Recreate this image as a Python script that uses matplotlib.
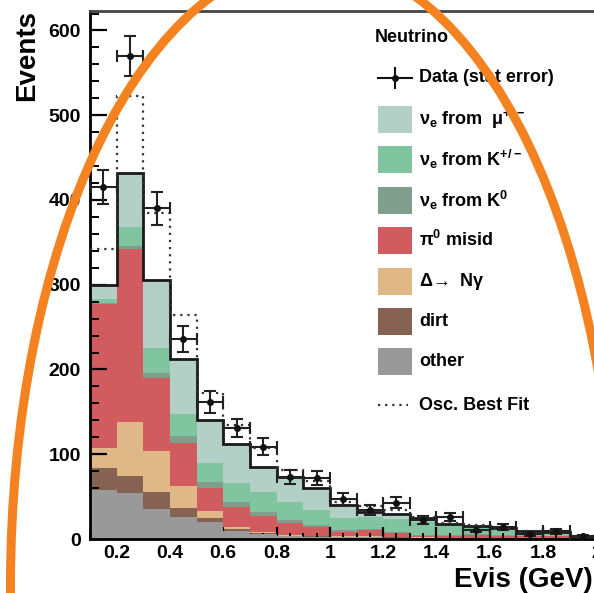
import numpy as np
import matplotlib
matplotlib.use("Agg")
import matplotlib.pyplot as plt
from matplotlib.patches import Rectangle, Ellipse
from matplotlib.lines import Line2D
from matplotlib.transforms import Affine2D
from matplotlib.ticker import MultipleLocator

# ── data (Evis bins, 0.1 GeV wide) ──────────────────────────────────────────
edges = [0.1, 0.2, 0.3, 0.4, 0.5, 0.6, 0.7, 0.8, 0.9, 1.0,
         1.1, 1.2, 1.3, 1.4, 1.5, 1.6, 1.7, 1.8, 1.9, 2.0]

# cumulative tops of the stacked MC (bottom -> top)
top_other = [58, 54, 35, 26, 20, 10, 6, 3, 2.5, 2, 2, 1.5, 1, 1, 1, 0.8, 0.6, 0.6, 0.3]
top_dirt  = [84, 74, 55, 37, 25, 11.5, 7, 3.5, 3, 2.5, 2.5, 2, 1.5, 1.2, 1.2, 1, 0.8, 0.8, 0.5]
top_delta = [107, 138, 104, 62, 33, 14, 8, 4.5, 4, 3, 3, 2.5, 2, 1.6, 1.6, 1.3, 1, 1, 0.6]
top_pi0   = [277, 342, 190, 113, 60, 38, 27, 19, 14, 8.6, 10.6, 6.7, 3.5, 3.5, 5, 4, 3, 3, 1.5]
top_k0    = [279, 346, 196, 121, 67, 44, 32, 23, 16.5, 10.5, 12, 8, 5, 4.5, 6, 5, 3.8, 3.8, 1.8]
top_kpm   = [283, 368, 225, 147, 90, 66, 55, 44, 34, 24.4, 26, 24, 20.5, 15, 13, 11, 8, 7.5, 2.8]
top_mu    = [300, 432, 306, 212, 140, 112, 85, 73, 60, 40, 32, 30, 25, 17.7, 15.3, 12.6, 9.4, 8.7, 3.5]

osc_fit   = [342, 523, 385, 264, 172, 135, 107, 81, 68, 44, 39, 34, 26, 19, 16, 13, 9, 10, 3.5]

data_n    = [415, 570, 390, 236, 162, 131, 109, 73, 72, 47, 34, 43, 22, 26, 11, 14, 6, 9, 3]
data_err  = [20, 24, 20, 15, 13, 11, 10, 8.5, 8.5, 7, 6, 6.5, 4.7, 5, 3.3, 3.7, 2.4, 3, 1.7]

COL = {
    "mu": "#b2d0c6", "kpm": "#80c4a0", "k0": "#809e8c", "pi0": "#d05c60",
    "delta": "#e0b888", "dirt": "#856252", "other": "#999999",
}
ORANGE = "#f58220"

plt.rcParams.update({
    "font.family": ["Liberation Sans", "DejaVu Sans"],
    "font.weight": "bold",
    "mathtext.fontset": "custom",
    "mathtext.rm": "Liberation Sans",
    "mathtext.bf": "Liberation Sans:bold",
    "mathtext.default": "rm",
})

W, H = 594, 593
fig = plt.figure(figsize=(W / 100, H / 100), dpi=100)
# pixel coordinates, y pointing down
px = Affine2D().scale(1 / W, -1 / H).translate(0, 1) + fig.transFigure

ax = fig.add_axes([90 / W, 1 - 539 / H, (623 - 90) / W, (539 - 11) / H])
ax.set_xlim(0.1, 2.1)
ax.set_ylim(0, 623)

edges = np.array(edges)
centers = 0.5 * (edges[:-1] + edges[1:])

stack = [(top_mu, "mu"), (top_kpm, "kpm"), (top_k0, "k0"), (top_pi0, "pi0"),
         (top_delta, "delta"), (top_dirt, "dirt"), (top_other, "other")]
for z, (vals, key) in enumerate(stack):
    ax.stairs(vals, edges, baseline=0, fill=True, color=COL[key], lw=0, zorder=1 + z * 0.1)

ax.stairs(top_mu, edges, baseline=None, color="#1a1a1a", lw=2.0, zorder=3)
ax.stairs(osc_fit, edges, baseline=None, color="#333333", lw=1.6,
          ls=(0, (1, 2.2)), zorder=3)

ax.errorbar(centers, data_n, yerr=data_err, xerr=0.05, fmt="o", ms=4,
            color="#111111", ecolor="#222222", elinewidth=1.5, capsize=4.5,
            capthick=1.5, zorder=5)

# axes styling (ROOT-like)
ax.spines["right"].set_visible(False)
ax.spines["left"].set_linewidth(2.0)
ax.spines["bottom"].set_linewidth(2.0)
ax.spines["top"].set_linewidth(2.0)
ax.spines["top"].set_color("#444444")
ax.yaxis.set_major_locator(MultipleLocator(100))
ax.yaxis.set_minor_locator(MultipleLocator(20))
ax.xaxis.set_major_locator(MultipleLocator(0.2))
ax.xaxis.set_minor_locator(MultipleLocator(0.05))
ax.tick_params(axis="y", which="major", direction="in", length=12, width=1.6,
               labelsize=14, pad=6.5)
ax.tick_params(axis="y", which="minor", direction="in", length=6.5, width=1.4)
ax.tick_params(axis="x", which="major", direction="in", length=9, width=1.6,
               labelsize=14, pad=4)
ax.tick_params(axis="x", which="minor", direction="in", length=4.5, width=1.4)
ax.tick_params(top=False, right=False, which="both")
ax.xaxis.set_major_formatter(plt.FuncFormatter(lambda v, p: f"{v:g}"))

fig.text(27, 10, "Events", transform=px, rotation=90, ha="center", va="top",
         fontsize=20, fontweight="bold")
fig.text(593, 587, "Evis (GeV)", transform=px, ha="right", va="baseline",
         fontsize=20, fontweight="bold")

# legend, drawn by hand
fs = 13
fig.text(375, 38, "Neutrino", transform=px, ha="left", va="center", fontsize=fs)
rows = [78, 119, 159, 200, 240, 281, 321, 361, 405]
fig.add_artist(Line2D([378, 412], [rows[0], rows[0]], transform=px, color="#111111", lw=1.5))
fig.add_artist(Line2D([395, 395], [rows[0] - 10, rows[0] + 10], transform=px, color="#111111", lw=1.5))
fig.add_artist(Line2D([395], [rows[0]], transform=px, marker="o", ms=4, color="#111111"))
fig.text(419, rows[0], "Data (stat error)", transform=px, ha="left", va="center", fontsize=fs)

labels = [r"$\nu_{\mathbf{e}}$ from  $\mu^{+/-}$", r"$\nu_{\mathbf{e}}$ from K$^{+/-}$",
          r"$\nu_{\mathbf{e}}$ from K$^{0}$", r"$\pi^{0}$ misid",
          r"$\Delta\!\rightarrow$ N$\gamma$", "dirt", "other"]
keys = ["mu", "kpm", "k0", "pi0", "delta", "dirt", "other"]
for y, lab, key in zip(rows[1:8], labels, keys):
    fig.add_artist(Rectangle((378, y - 13.5), 34, 27, transform=px,
                             facecolor=COL[key], edgecolor="none"))
    fig.text(419, y, lab, transform=px, ha="left", va="center", fontsize=fs)
fig.add_artist(Line2D([378, 408], [rows[8], rows[8]], transform=px, color="#333333",
                      lw=1.6, ls=(0, (1, 2.2))))
fig.text(419, rows[8], "Osc. Best Fit", transform=px, ha="left", va="center", fontsize=fs)

# orange hand-drawn ellipse on top of everything
fig.add_artist(Ellipse((313.5, 585), 606, 1250, transform=px, fill=False,
                       edgecolor=ORANGE, lw=6.5, zorder=10))

fig.savefig("out.png", dpi=100, facecolor="white")
